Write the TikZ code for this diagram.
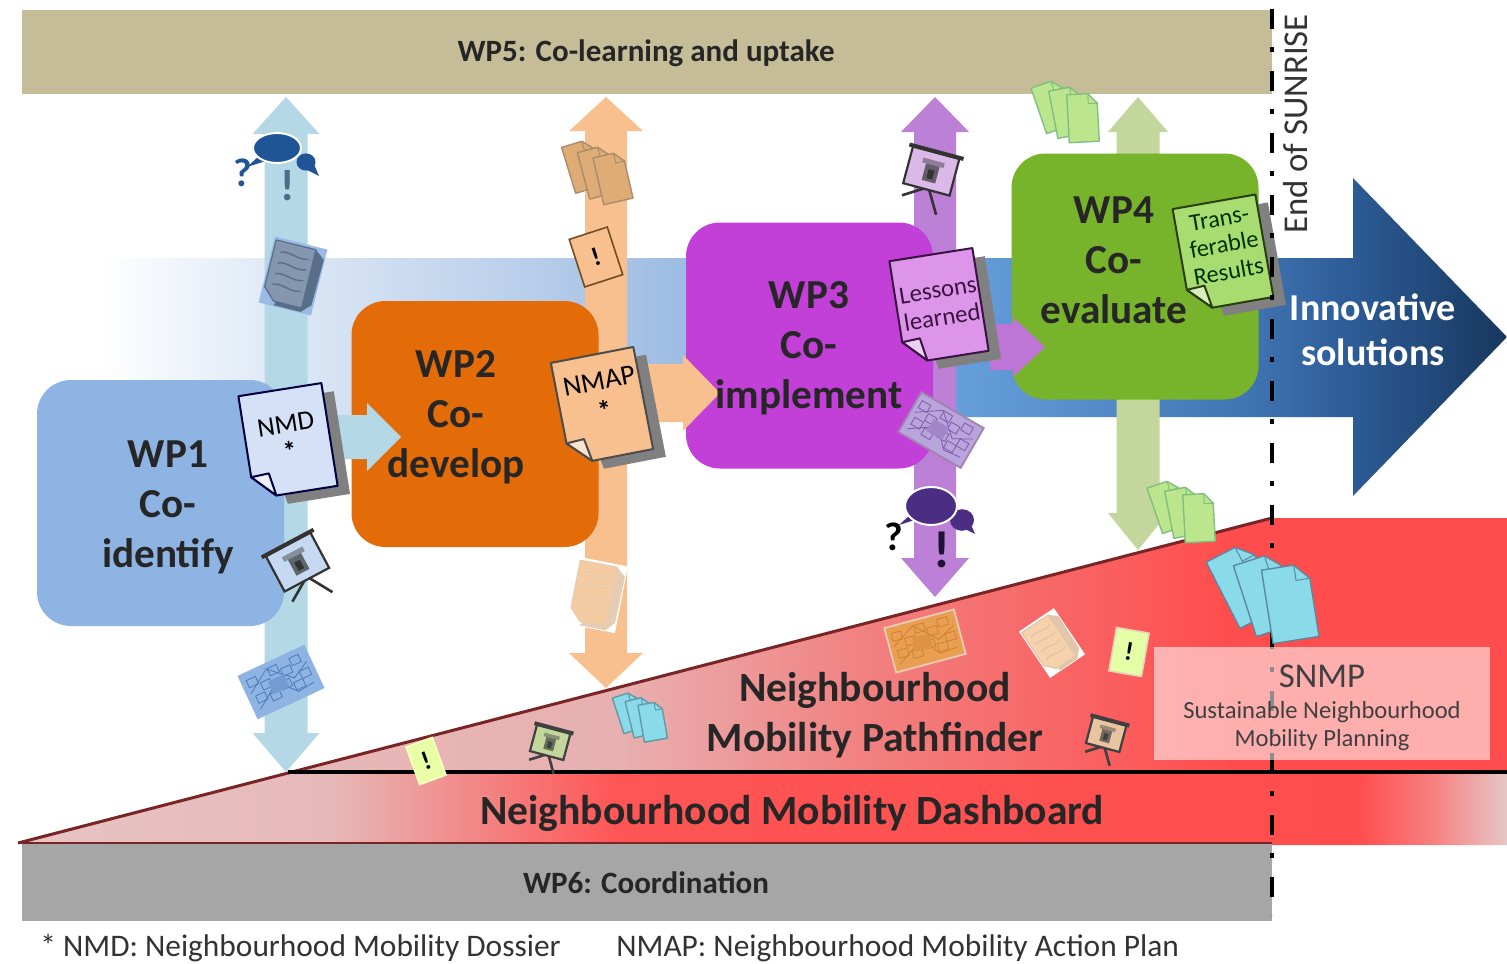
\documentclass[tikz,border=0pt]{standalone}
\usepackage{fontspec}
\setmainfont{Carlito}
\usepackage{tikz}
\definecolor{bandtan}{HTML}{C4BD97}
\definecolor{bandgray}{HTML}{A6A6A6}
\definecolor{wpblue}{HTML}{8EB4E3}
\definecolor{wporange}{HTML}{E36C09}
\definecolor{wppurple}{HTML}{C23FD8}
\definecolor{wpgreen}{HTML}{77B32B}
\definecolor{lineblue}{HTML}{B4D8E5}
\definecolor{lineorange}{HTML}{F9C08F}
\definecolor{linepurple}{HTML}{BC80D6}
\definecolor{linegreen}{HTML}{C3D69B}
\definecolor{slopered}{HTML}{7A2525}
\definecolor{talkblue}{HTML}{1F5596}
\definecolor{talkpurple}{HTML}{4B2E83}
\definecolor{stackcyan}{HTML}{8ADAEA}
\definecolor{stackgreen}{HTML}{BCE68E}
\definecolor{stackorange}{HTML}{E0AC75}
\definecolor{docgreen}{HTML}{A9DC70}
\definecolor{mappurple}{HTML}{B7A5DC}
\pgfdeclarehorizontalshading{bandblue}{100bp}{rgb(0bp)=(1,1,1); rgb(25bp)=(1,1,1); rgb(30.3bp)=(0.89,0.925,0.969); rgb(39.2bp)=(0.74,0.82,0.925); rgb(44.5bp)=(0.64,0.753,0.894); rgb(55.6bp)=(0.40,0.62,0.86); rgb(65.9bp)=(0.247,0.455,0.698); rgb(69.4bp)=(0.176,0.361,0.592); rgb(75bp)=(0.09,0.216,0.369); rgb(100bp)=(0.09,0.216,0.369)}
\pgfdeclarehorizontalshading{pathfinderred}{100bp}{rgb(0bp)=(0.902,0.725,0.722); rgb(25bp)=(0.902,0.725,0.722); rgb(38.6bp)=(0.91,0.69,0.69); rgb(48.9bp)=(0.95,0.5,0.5); rgb(58.3bp)=(0.98,0.376,0.376); rgb(63.6bp)=(1,0.302,0.302); rgb(100bp)=(1,0.302,0.302)}
\pgfdeclarehorizontalshading{dashred}{100bp}{rgb(0bp)=(0.91,0.77,0.77); rgb(25bp)=(0.91,0.77,0.77); rgb(35.5bp)=(0.902,0.725,0.722); rgb(45.2bp)=(1,0.333,0.333); rgb(70bp)=(1,0.302,0.302); rgb(72.5bp)=(0.97,0.5,0.5); rgb(75bp)=(0.902,0.78,0.78); rgb(100bp)=(0.902,0.78,0.78)}
\tikzset{
  wpbox/.style={rectangle,rounded corners=17pt,minimum width=123.5pt,minimum height=123pt,inner sep=0pt},
  wptext/.style={align=center,inner sep=0pt,font=\fontsize{20.6}{25}\selectfont\bfseries,text=black!85},
  bandtext/.style={inner sep=0pt,font=\fontsize{15.5}{17}\selectfont\bfseries,text=black!85},
  bigtext/.style={inner sep=0pt,align=center,font=\fontsize{20.8}{25}\selectfont\bfseries,text=black!85},
  doctext/.style={inner sep=0pt,align=center,font=\fontsize{13}{14}\selectfont},
  notebox/.style={rectangle,inner sep=0pt,line width=0.8pt,font=\fontsize{13}{14}\selectfont\bfseries},
  footer/.style={inner sep=0pt,anchor=west,font=\fontsize{15.7}{17}\selectfont,text=black!80},
}
\newcommand{\wparrow}[8]{\fill[#8] (#1,#4) -- (#1+#3,#5) -- (#1+#2,#5) -- (#1+#2,#6) -- (#1+#3,#6) -- (#1,#7) -- (#1-#3,#6) -- (#1-#2,#6) -- (#1-#2,#5) -- (#1-#3,#5) -- cycle;}
\newcommand{\blockarrow}[7]{\fill[#7] (#1,#3-#4) -- (#2,#3-#4) -- (#2,#3-#5) -- (#6,#3) -- (#2,#3+#5) -- (#2,#3+#4) -- (#1,#3+#4) -- cycle;}
\newcommand{\docpage}[5]{
\begin{scope}[shift={(#1,#2)},rotate=#3]
\fill[black!50] (-30,-42) -- (53,-42) -- (53,62) -- (-10,62) -- cycle;
\draw[fill=#4,draw=#5,line width=1pt,line join=round] (-42,-52) -- (42,-52) -- (42,52) -- (-20,52) -- (-42,30) -- cycle;
\draw[fill=#4!45!white,draw=#5,line width=1pt,line join=round] (-42,30) -- (-24,29) -- (-20,52) -- cycle;
\end{scope}
}
\newcommand{\pagestack}[7]{
\begin{scope}[shift={(#1,#2)},scale=#4]
\foreach \sx/\sy/\turn in {-15/-6/1,0/0/0,15/6/-1}{
\begin{scope}[shift={(\sx,\sy)},rotate=#3+#7*\turn]
\draw[fill=#5,draw=#6,line width=0.7pt,line join=round] (-15,-24) -- (6,-24) -- (15,-14) -- (15,24) -- (-15,24) -- cycle;
\draw[draw=#6,line width=0.5pt] (6,-24) -- (6,-14) -- (15,-14);
\end{scope}
}
\end{scope}
}
\newcommand{\easel}[6]{
\begin{scope}[shift={(#1,#2)},rotate=#3,scale=#4]
\colorlet{easelscreen}{#5}
\colorlet{easelink}{#6}
\draw[easelink,line width=1.3pt] (-3,18) -- (-22,30);
\draw[easelink,line width=1.3pt] (3,18) -- (16,40);
\draw[fill=easelscreen,draw=easelink,line width=1.1pt] (-24,-20) rectangle (24,18);
\draw[easelink,line width=2pt] (-28,-21) -- (28,-21);
\fill[easelink!45!easelscreen] (-11,-12) rectangle (11,-7);
\fill[easelink!70!easelscreen] (-7,-7) rectangle (7,10);
\fill[easelink] (-3,-2) rectangle (3,7);
\end{scope}
}
\newcommand{\thickdoc}[8]{
\begin{scope}[shift={(#1,#2)},rotate=#3,xscale=#4,yscale=#5]
\fill[#6] (-27,-34) rectangle (27,34);
\fill[#8] (16,-31) -- (26,-23) -- (25,24) -- (16,33) -- (-12,33) -- cycle;
\draw[fill=#7,draw=#8,line width=0.6pt,line join=round] (-25,-31) -- (16,-31) -- (16,29) -- (-13,29) -- (-25,17) -- cycle;
\foreach \ly in {-20,-9,2,13}{
\draw[#8,line width=0.7pt] (-18,\ly) .. controls (-8,\ly-4) and (0,\ly+4) .. (11,\ly);
}
\end{scope}
}
\newcommand{\mapsheet}[7]{
\begin{scope}[shift={(#1,#2)},rotate=#3,scale=#4]
\colorlet{mapfill}{#5}
\colorlet{mapink}{#7}
\draw[fill=mapfill,draw=#6,line width=0.9pt] (-36,-23) rectangle (36,23);
\foreach \mx/\my in {-26/-12,-14/-4,-2/-14,10/-8,22/-14,-24/6,-10/10,4/4,16/10,26/2}{
\draw[mapink,line width=0.4pt] (\mx-5,\my-4) rectangle (\mx+5,\my+4);
}
\draw[mapink,line width=0.4pt] (-32,-2) -- (-8,-18) -- (14,2) -- (32,-8);
\draw[mapink,line width=0.4pt] (-30,16) -- (-4,-2) -- (12,16) -- (30,14);
\fill[mapink!40!mapfill] (-12,-6) rectangle (6,8);
\end{scope}
}
\newcommand{\speechpair}[6]{
\fill[#6] (#1-#3+6,#2+8) -- (#1-#3-6,#2+19) -- (#1-#3+16,#2+12) -- cycle;
\fill[#6] (#1+#3+12,#2+14) -- (#1+#3+18,#2+28) -- (#1+#3+6,#2+22) -- cycle;
\fill[#6] (#1+#3+5,#2+14) ellipse ({#4*0.5} and {#4*0.45});
\draw[white,line width=1pt,fill=#6] (#1,#2) ellipse (#3 and #5);
}
\begin{document}
\begin{tikzpicture}[x=0.5pt,y=-0.5pt]
\useasboundingbox (0,0) rectangle (1507,963);
\fill[white] (0,0) rectangle (1507,963);
\fill[bandtan] (22,10) rectangle (1272,94);
\fill[bandgray] (22,843) rectangle (1272,921);
\shade[shading=bandblue] (100,258) -- (1353,258) -- (1353,178) -- (1507,337) -- (1353,496) -- (1353,417) -- (100,417) -- cycle;
\shade[shading=pathfinderred] (288,772) -- (1272,518) -- (1507,518) -- (1507,772) -- cycle;
\shade[shading=dashred] (18,843) -- (288,772) -- (1507,772) -- (1507,845) -- (1272,845) -- (1272,843) -- cycle;
\draw[slopered,line width=1.5pt] (18,843) -- (1272,518);
\draw[slopered,line width=1pt] (18,843) -- (1272,843);
\draw[black,line width=2pt] (288,772) -- (1507,772);
\wparrow{286}{21.5}{33.5}{97}{134}{733}{772}{lineblue}
\wparrow{606}{21}{37}{97}{131}{653}{688}{lineorange}
\wparrow{935}{21}{34}{97}{132}{558}{597}{linepurple}
\wparrow{1138}{21.5}{30}{97}{132}{513}{550}{linegreen}
\node[wpbox,fill=wpblue] (wpone) at (160.5,503) {};
\node[wpbox,fill=wporange] (wptwo) at (475,424) {};
\node[wpbox,fill=wppurple] (wpthree) at (809.5,345.5) {};
\node[wpbox,fill=wpgreen] (wpfour) at (1135,276.5) {};
\blockarrow{335}{367}{437}{22}{34}{401}{lineblue}
\blockarrow{645}{683}{393}{29}{38}{720}{lineorange}
\blockarrow{990}{1013}{347}{23}{30}{1045}{linepurple!85!wppurple}
\docpage{288}{441}{9}{blue!6!wpblue!35!white}{black!75!blue}
\docpage{602}{406}{11}{lineorange}{black!70}
\docpage{939}{306}{9}{wppurple!55!white}{black!70!wppurple}
\thickdoc{293}{276}{-14}{1}{1}{wpblue!90!white}{talkblue!50!gray!70!white}{talkblue!40!gray}
\thickdoc{597}{595}{-11}{0.92}{1}{white}{orange!30!white!85!brown}{brown!40!white}
\thickdoc{1052}{643}{34}{0.78}{0.82}{white}{orange!25!white!85!brown}{brown!45!white}
\docpage{1223}{253}{10}{docgreen}{black!65!wpgreen}
\draw[black,line width=2pt,dash pattern=on 10pt off 9pt on 2.5pt off 9.5pt] (1272,9) -- (1272,915);
\pagestack{598}{172}{15}{1}{stackorange}{brown!70!black!70!white}{2}
\pagestack{1068}{112}{11}{1}{stackgreen}{black!50!green!50!white}{8}
\pagestack{1184}{512}{11}{1}{stackgreen}{black!50!green!50!white}{8}
\pagestack{641}{717}{14}{0.78}{stackcyan}{stackcyan!70!black}{4}
\fill[white,fill opacity=0.55] (1154,647) rectangle (1490,760);
\pagestack{1267}{594}{18}{1.55}{stackcyan}{black!40!cyan!70!gray}{9}
\node[draw=brown!60!black,fill=lineorange,notebox,rotate=18,minimum width=20pt,minimum height=25pt] (noteorange) at (596,257) {!};
\node[draw=green!15!yellow!25!white,fill=green!25!yellow!35!white,notebox,rotate=20,minimum width=14pt,minimum height=20pt] (notelow) at (426,761) {!};
\node[draw=brown!35!white,fill=green!30!yellow!35!white,notebox,rotate=-10,minimum width=16.5pt,minimum height=22pt] (notehigh) at (1129,652) {!};
\mapsheet{281}{682}{25}{1}{wpblue}{wpblue}{talkblue!60!wpblue}
\mapsheet{941}{430}{-30}{1}{mappurple}{linepurple!60!gray}{talkpurple!50!linepurple}
\mapsheet{925}{641}{15}{1}{stackorange!70!orange}{brown!40!white}{brown!70!orange}
\easel{298}{563}{28}{1.05}{wpblue!50!white}{black!80}
\easel{931}{172}{-15}{1}{linepurple!55!white}{black!80}
\easel{550}{743}{-15}{0.72}{linegreen}{black!75}
\easel{1106}{735}{-15}{0.72}{brown!40!white!90!orange}{black!75}
\speechpair{277}{148}{24}{19}{15}{talkblue}
\speechpair{931}{506}{26}{24}{19}{talkpurple}
\node[inner sep=0pt,font=\fontsize{20}{22}\selectfont\bfseries,text=talkblue] (askblue) at (243,173) {?};
\node[inner sep=0pt,font=\fontsize{22}{24}\selectfont\bfseries,text=talkblue!50!gray] (markblue) at (288,186) {!};
\node[inner sep=0pt,font=\fontsize{20}{22}\selectfont\bfseries] (askpurple) at (894,537) {?};
\node[inner sep=0pt,font=\fontsize{26}{28}\selectfont\bfseries,text=talkpurple!40!black] (markpurple) at (942,550) {!};
\node[bandtext] (wpfive) at (646,53) {WP5: Co-learning and uptake};
\node[bandtext] (wpsix) at (646,883) {WP6: Coordination};
\node[wptext] (wponetext) at (168,507) {WP1\\Co-\\identify};
\node[wptext] (wptwotext) at (456,417) {WP2\\Co-\\develop};
\node[wptext] (wpthreetext) at (809,348) {WP3\\Co-\\implement};
\node[wptext] (wpfourtext) at (1114,260) {WP4\\Co-\\evaluate};
\node[doctext,rotate=9,font=\fontsize{13.5}{14}\selectfont] (nmdtext) at (288,438) {NMD\\\textbf{*}};
\node[doctext,rotate=11,font=\fontsize{14}{15.5}\selectfont] (nmaptext) at (602,396) {NMAP\\\textbf{*}};
\node[doctext,rotate=9,text=black!70!wppurple,font=\fontsize{12.4}{14}\selectfont] (lessontext) at (940,304) {Lessons\\learned};
\node[doctext,rotate=10,text=black!80!green,font=\fontsize{12.2}{13.5}\selectfont] (transfertext) at (1224,245) {Trans-\\ferable\\Results};
\node[inner sep=0pt,align=center,text=white,font=\fontsize{19}{22.5}\selectfont\bfseries] (innovative) at (1373,330) {Innovative\\solutions};
\node[inner sep=0pt,rotate=90,font=\fontsize{17.4}{19}\selectfont,text=black!80] (endsunrise) at (1296,124) {End of SUNRISE};
\node[bigtext] (pathfinder) at (875,715) {Neighbourhood\\Mobility Pathfinder};
\node[bigtext] (dashboard) at (792,813) {Neighbourhood Mobility Dashboard};
\node[inner sep=0pt,font=\fontsize{17.4}{18}\selectfont,text=black!75] (snmp) at (1322,676) {SNMP};
\node[inner sep=0pt,align=center,font=\fontsize{12.3}{14}\selectfont,text=black!75] (snmpfull) at (1322,726) {Sustainable Neighbourhood\\Mobility Planning};
\node[footer] (footnmd) at (40,948) {* NMD: Neighbourhood Mobility Dossier};
\node[footer] (footnmap) at (616,948) {NMAP: Neighbourhood Mobility Action Plan};
\end{tikzpicture}
\end{document}
